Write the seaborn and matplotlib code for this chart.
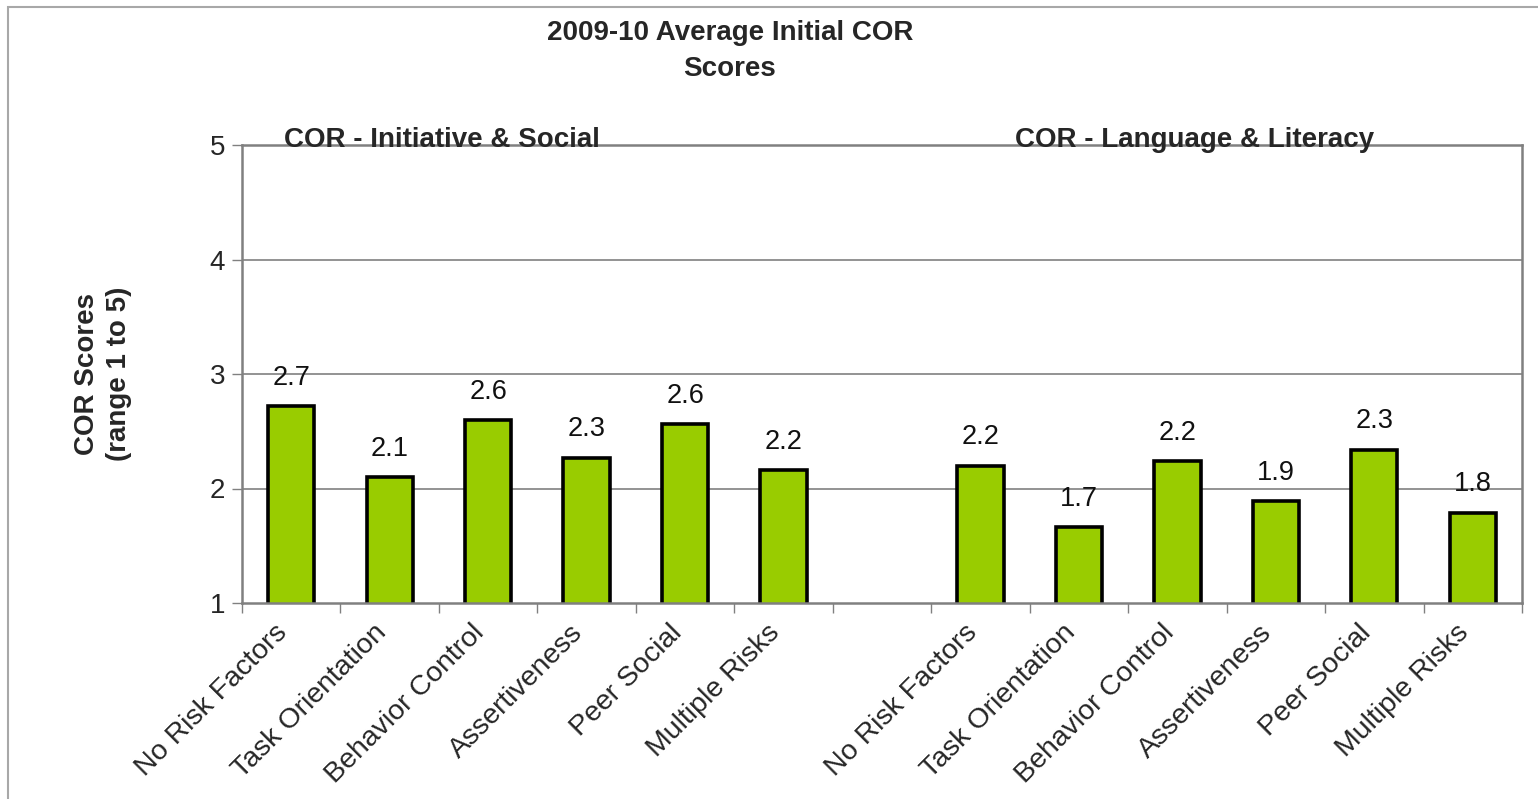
import matplotlib
matplotlib.use("Agg")
import matplotlib.pyplot as plt
from matplotlib.patches import Rectangle
from matplotlib.ticker import FixedLocator
import seaborn as sns
import pandas as pd

# Average initial COR scores by risk group
categories = ["No Risk Factors", "Task Orientation", "Behavior Control",
              "Assertiveness", "Peer Social", "Multiple Risks"]
initiative_social = [2.72, 2.10, 2.60, 2.27, 2.56, 2.16]
language_literacy = [2.20, 1.66, 2.24, 1.89, 2.34, 1.79]
group_titles = ["COR - Initiative & Social", "COR - Language & Literacy"]
y_ticks = [1, 2, 3, 4, 5]

sns.set_theme(style="white")
plt.rcParams["font.family"] = ["Liberation Sans", "DejaVu Sans"]

# One slot per bar, with an empty slot separating the two domains
n = len(categories)
positions = list(range(n)) + list(range(n + 1, 2 * n + 1))
df = pd.DataFrame({
    "slot": positions,
    "score": initiative_social + language_literacy,
})
slot_order = list(range(2 * n + 1))
tick_labels = categories + [""] + categories

fig = plt.figure(figsize=(15.38, 7.99), dpi=100)
ax = fig.add_axes([242 / 1538, 1 - 603 / 799, (1522 - 242) / 1538, (603 - 145) / 799])

sns.barplot(data=df, x="slot", y="score", order=slot_order, color="#99cc00",
            saturation=1, width=0.47, edgecolor="black", linewidth=2.6, ax=ax,
            bottom=0)

ax.set_ylim(1, 5)
ax.set_xlim(-0.5, 2 * n + 0.5)
ax.set_yticks(y_ticks)
ax.set_yticklabels([str(t) for t in y_ticks], fontsize=20)

# Gridlines at interior ticks
for t in y_ticks[1:-1]:
    ax.axhline(t, color="#808080", linewidth=1.2, zorder=0)

# Slanted category labels (ending just left of each bar centre),
# tick marks drawn between categories
ax.set_xticks([k - 0.17 for k in range(2 * n + 1)])
ax.set_xticklabels(tick_labels, rotation=45, ha="right", rotation_mode="anchor",
                   fontsize=20.5)
ax.tick_params(axis="x", which="major", length=0, pad=12)
ax.xaxis.set_minor_locator(FixedLocator([k - 0.5 for k in range(2 * n + 2)]))
ax.tick_params(axis="x", which="minor", length=7, width=1, color="#808080",
               direction="out", bottom=True)
ax.tick_params(axis="y", length=7, width=1, color="#808080", direction="out",
               left=True, labelsize=20, pad=5)

for side in ["left", "right", "top", "bottom"]:
    ax.spines[side].set_visible(True)
    ax.spines[side].set_color("#808080")
    ax.spines[side].set_linewidth(1.8)

ax.set_xlabel("")
ax.set_ylabel("COR Scores\n(range 1 to 5)", fontsize=20, fontweight="bold",
              labelpad=56, linespacing=1.3)

# Value labels above each bar
for container in ax.containers:
    labels = [f"{b.get_height():.1f}" if b.get_height() > 0 else "" for b in container]
    ax.bar_label(container, labels=labels, padding=11, fontsize=19.5, color="#111111")

# Domain titles sitting on the top edge of the plot area
ax.text(-0.07, 4.985, group_titles[0], fontsize=20, fontweight="bold",
        ha="left", va="baseline", zorder=5)
ax.text(7.35, 4.985, group_titles[1], fontsize=20, fontweight="bold",
        ha="left", va="baseline", zorder=5)

fig.text(730 / 1538, 1 - 51 / 799, "2009-10 Average Initial COR\nScores",
         ha="center", va="center", fontsize=20, fontweight="bold", linespacing=1.45)

# Outer chart border
fig.patches.append(Rectangle((8 / 1538, -0.01), 1.02, 1 - 7 / 799 + 0.01,
                             transform=fig.transFigure, fill=False,
                             edgecolor="#a8a8a8", linewidth=1.5))

fig.savefig("out.png", dpi=100, facecolor="white")
